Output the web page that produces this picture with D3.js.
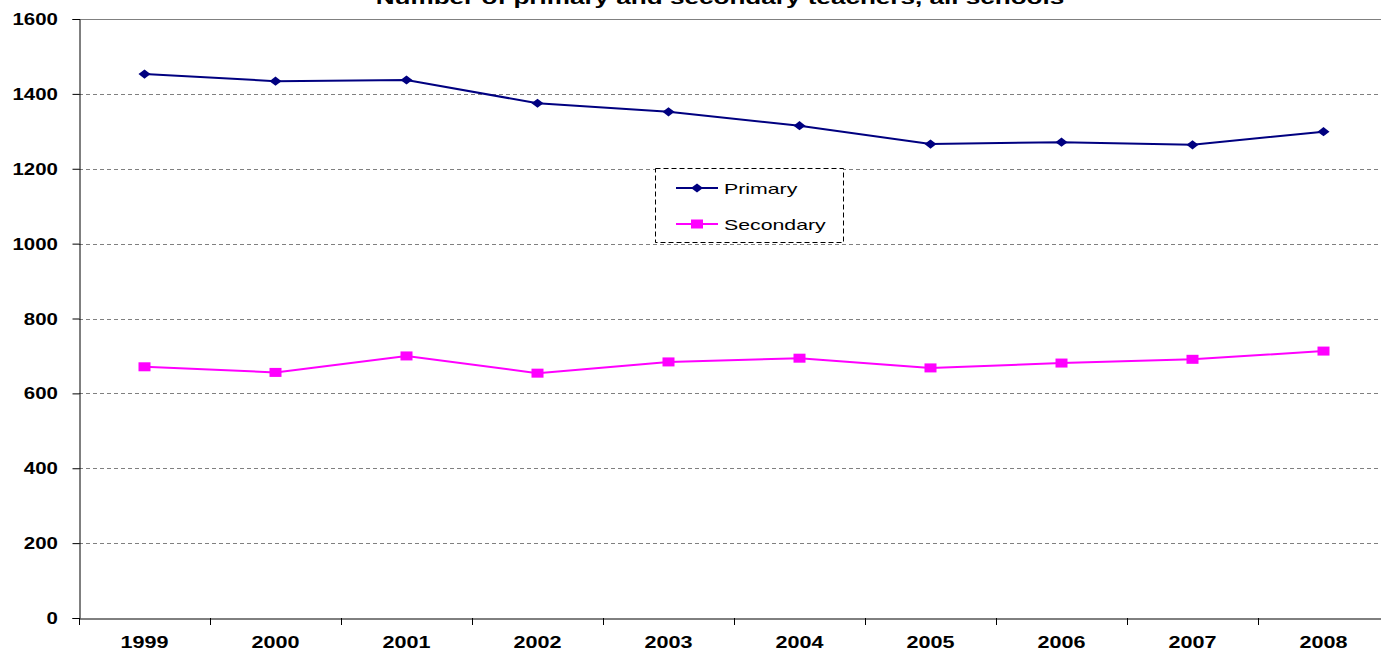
<!DOCTYPE html>
<html><head><meta charset="utf-8">
<script src="https://cdn.jsdelivr.net/npm/d3@7"></script>
<style>body{margin:0;background:#fff;}svg{display:block;font-family:Arial,"Liberation Sans",sans-serif;}</style>
</head><body>
<svg id="c" width="1381" height="652"></svg>
<script>
const years = ["1999","2000","2001","2002","2003","2004","2005","2006","2007","2008"];
const primary = [1453,1434,1437,1375,1352,1315,1266,1271,1264,1299];
const secondary = [671,656,700,654,684,694,668,681,691,713];
const yTicks = [0,200,400,600,800,1000,1200,1400,1600];
const title = "Number of primary and secondary teachers, all schools";

const svg = d3.select("#c");
const L = 79, R = 1389, T = 19, B = 618;
const x = d3.scaleBand().domain(years).range([L, R]);
const y = d3.scaleLinear().domain([0, 1600]).range([B, T]);
const FF = "Arial, 'Liberation Sans', sans-serif";
const diamond = "M-6,0L0,-4.6L6,0L0,4.6Z";

function stext(g, px, py, txt, size, weight, sx, anchor) {
  return g.append("text")
    .attr("transform", `translate(${px},${py}) scale(${sx},1)`)
    .attr("text-anchor", anchor).attr("font-size", size).attr("font-weight", weight)
    .attr("font-family", FF).attr("fill", "#000").text(txt);
}

// gridlines
svg.append("g").selectAll("line").data(yTicks.filter(d => d > 0 && d < 1600)).join("line")
  .attr("x1", L).attr("x2", R).attr("y1", d => Math.round(y(d)) + 0.5).attr("y2", d => Math.round(y(d)) + 0.5)
  .attr("stroke", "#808080").attr("stroke-width", 1).attr("stroke-dasharray", "4,3");
svg.append("line").attr("x1", L).attr("x2", R).attr("y1", Math.round(y(1600)) + 0.5).attr("y2", Math.round(y(1600)) + 0.5)
  .attr("stroke", "#808080").attr("stroke-width", 1);

// y axis
const ya = svg.append("g").attr("transform", `translate(${L + 0.5},0)`)
  .call(d3.axisLeft(y).tickValues(yTicks).tickSize(7).tickFormat(""));
ya.select(".domain").attr("stroke", "#000");
ya.selectAll(".tick line").attr("stroke", "#000");
const yl = svg.append("g");
yTicks.forEach(t => stext(yl, 58, y(t) + 6, d3.format("d")(t), 16.5, "bold", 1.24, "end"));

// x axis
const xa = svg.append("g").attr("transform", `translate(0,${B + 0.5})`)
  .call(d3.axisBottom(x).tickSize(0).tickFormat(""));
xa.select(".domain").attr("stroke", "#000");
svg.append("g").selectAll("line").data(years).join("line")
  .attr("x1", d => Math.round(x(d)) + 0.5).attr("x2", d => Math.round(x(d)) + 0.5).attr("y1", B).attr("y2", B + 7)
  .attr("stroke", "#000");
const cx = d => x(d) + x.bandwidth() / 2;
const xl = svg.append("g");
years.forEach(yr => stext(xl, cx(yr), 648, yr, 16, "bold", 1.35, "middle"));

// primary
svg.append("path").datum(primary)
  .attr("d", d3.line().x((d, i) => cx(years[i])).y(d => y(d)))
  .attr("fill", "none").attr("stroke", "#000080").attr("stroke-width", 2);
svg.append("g").selectAll("path").data(primary).join("path")
  .attr("d", diamond)
  .attr("transform", (d, i) => `translate(${cx(years[i])},${y(d)})`)
  .attr("fill", "#000080");

// secondary
svg.append("path").datum(secondary)
  .attr("d", d3.line().x((d, i) => cx(years[i])).y(d => y(d)))
  .attr("fill", "none").attr("stroke", "#FF00FF").attr("stroke-width", 2);
svg.append("g").selectAll("rect").data(secondary).join("rect")
  .attr("x", (d, i) => cx(years[i]) - 6).attr("y", d => y(d) - 4.5)
  .attr("width", 12).attr("height", 9).attr("fill", "#FF00FF");

// title
stext(svg, 720, 4, title, 18, "bold", 1.45, "middle");

// legend
const lg = svg.append("g");
lg.append("rect").attr("x", 655.5).attr("y", 168.5).attr("width", 188).attr("height", 74)
  .attr("fill", "#fff").attr("stroke", "#000").attr("stroke-dasharray", "5,3");
const items = [
  {name: "Primary", color: "#000080", type: "d", yy: 188},
  {name: "Secondary", color: "#FF00FF", type: "s", yy: 224}
];
items.forEach(it => {
  lg.append("line").attr("x1", 676).attr("x2", 718).attr("y1", it.yy).attr("y2", it.yy)
    .attr("stroke", it.color).attr("stroke-width", 2);
  if (it.type === "d") {
    lg.append("path").attr("d", diamond)
      .attr("transform", `translate(697,${it.yy})`).attr("fill", it.color);
  } else {
    lg.append("rect").attr("x", 691).attr("y", it.yy - 4.5).attr("width", 12).attr("height", 9)
      .attr("fill", it.color);
  }
  stext(lg, 724, it.yy + 5.5, it.name, 15, "normal", 1.42, "start");
});
</script>
</body></html>
